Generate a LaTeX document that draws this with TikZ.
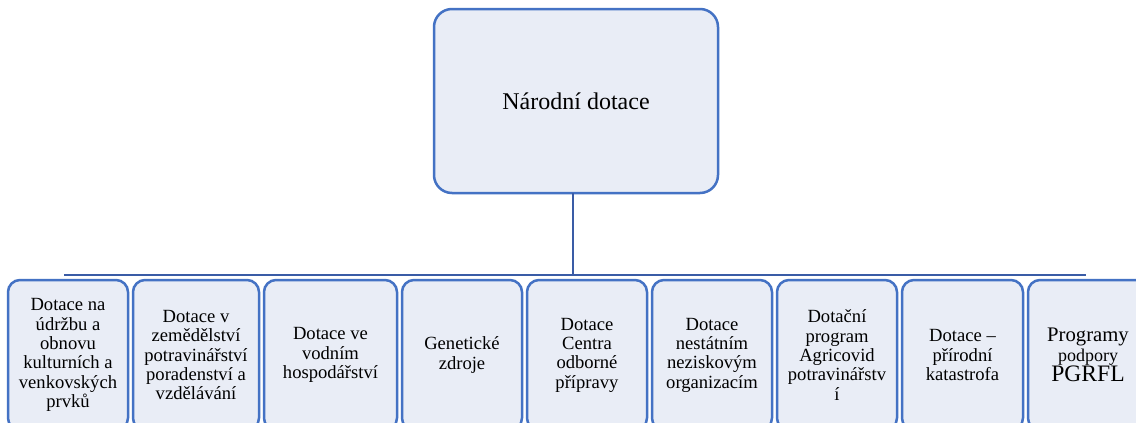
\documentclass[tikz,border=0pt]{standalone}
\usepackage{fontspec}
\setmainfont{Liberation Serif}
\usetikzlibrary{positioning}

\definecolor{boxline}{HTML}{4472C4}
\definecolor{boxfill}{HTML}{E9EDF6}
\definecolor{linkline}{HTML}{3A5CA6}

\begin{document}
\begin{tikzpicture}[
            x = 1pt, y = -1pt, % pixel units, y pointing down
            node distance = 5pt, % gap between the boxes
            semithick % line style
        ]

        \tikzstyle{box}=[
        draw = boxline,
        fill = boxfill,
        line width = 2.5pt,
        rounded corners = 12pt,
        outer sep = 0pt,
        inner sep = 2pt,
        align = center,
        minimum height = 150pt,
        preaction = {draw = white, line width = 4.9pt}
        ]
        \tikzstyle{small}=[font = \rmfamily\fontsize{18.6}{19.3}\selectfont]
        \tikzstyle{link}=[
        draw = linkline,
        line width = 2.6pt
        ]

        \useasboundingbox (0,0) rectangle (1136,423);

        \node[box, anchor=north west, minimum width=284pt, minimum height=184pt,
              rounded corners=18pt, font=\rmfamily\fontsize{24}{26}\selectfont] (top) at (434,9) {Národní dotace};

        \node[box, small, anchor=north west, minimum width=120pt] (b1) at (8,280) {Dotace na\\ údržbu a\\ obnovu\\ kulturních a\\ venkovských\\ prvků};
        \node[box, small, minimum width=126pt, right=of b1] (b2) {Dotace v\\ zemědělství\\ potravinářství\\ poradenství a\\ vzdělávání};
        \node[box, small, minimum width=133pt, right=of b2] (b3) {Dotace ve\\ vodním\\ hospodářství};
        \node[box, small, minimum width=120pt, right=of b3] (b4) {Genetické\\ zdroje};
        \node[box, small, minimum width=120pt, right=of b4] (b5) {Dotace\\ Centra\\ odborné\\ přípravy};
        \node[box, small, minimum width=120pt, right=of b5] (b6) {Dotace\\ nestátním\\ neziskovým\\ organizacím};
        \node[box, small, minimum width=120pt, right=of b6] (b7) {Dotační\\ program\\ Agricovid\\ potravinářstv\\ í};
        \node[box, small, minimum width=121pt, right=of b7] (b8) {Dotace –\\ přírodní\\ katastrofa};
        \node[box, small, minimum width=120pt, right=of b8] (b9) {\fontsize{20.7}{21}\selectfont Programy\\
              \fontsize{18}{20}\selectfont podpory\\ \fontsize{23.6}{21}\selectfont PGRFL};

        \coordinate (hl) at (64,275);
        \coordinate (hr) at (1086,275);
        \coordinate (drop) at ([xshift=-3pt]top.south);

        \path[link] (hl) -- (hr);
        \path[link] (drop) -- (drop |- hl);
    \end{tikzpicture}
\end{document}
